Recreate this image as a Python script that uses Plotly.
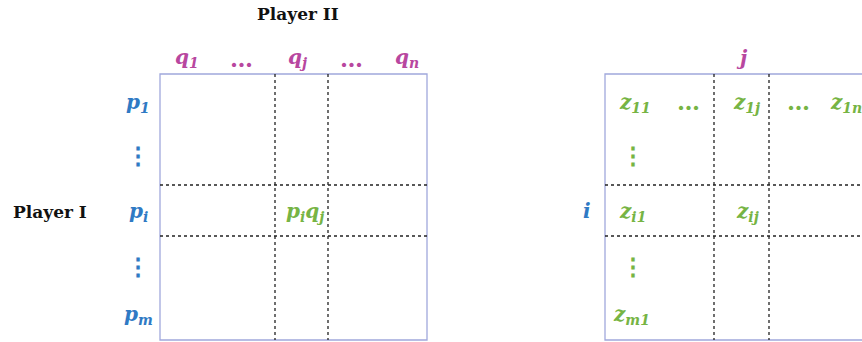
import plotly.graph_objects as go

W, H = 862, 342

# ---- diagram content ----
col_labels = ["q<sub>1</sub>", "…", "q<sub>j</sub>", "…", "q<sub>n</sub>"]
col_label_x = [187, 241, 297, 351, 407]
row_labels = ["p<sub>1</sub>", "⋮", "p<sub>i</sub>", "⋮", "p<sub>m</sub>"]
row_label_y = [103, 155, 212, 266, 315]

z_labels = ["z<sub>11</sub>", "…", "z<sub>1j</sub>", "…", "z<sub>1n</sub>",
            "⋮", "z<sub>i1</sub>", "z<sub>ij</sub>", "⋮", "z<sub>m1</sub>"]
z_x = [635, 688, 746, 798, 846, 633, 632, 747, 633, 631]
z_y = [103, 101, 103, 101, 103, 155, 212, 212, 266, 315]

# matrix geometry (left matrix, right matrix share rows)
left_box = (160, 427)
right_box = (605, 872)
box_y = (74, 340)
left_vdash = [275, 328]
right_vdash = [714, 769]
hdash = [185, 236]

MAG = "#b8479f"
BLUE = "#2f7ac4"
GREEN = "#76b444"
BOXC = "#a0a8dc"
FONT = "DejaVu Serif"

fig = go.Figure()
fig.add_trace(go.Scatter(x=[0, W], y=[0, H], mode="markers",
                         marker=dict(opacity=0), hoverinfo="skip", showlegend=False))

shapes = []
for (x0, x1) in (left_box, right_box):
    shapes.append(dict(type="rect", x0=x0, x1=x1, y0=box_y[0], y1=box_y[1],
                       line=dict(color=BOXC, width=1.3)))
for x in left_vdash + right_vdash:
    shapes.append(dict(type="line", x0=x, x1=x, y0=box_y[0], y1=box_y[1],
                       line=dict(color="#222222", width=1.3, dash="dot")))
for (x0, x1) in (left_box, right_box):
    for y in hdash:
        shapes.append(dict(type="line", x0=x0, x1=x1, y0=y, y1=y,
                           line=dict(color="#222222", width=1.3, dash="dot")))

ann = []
def add(text, x, y, color, size=20, bold=True, italic=True, family=FONT):
    t = text
    if italic and text not in ("⋮", "…"):
        t = "<i>" + t + "</i>"
    if bold:
        t = "<b>" + t + "</b>"
    if text == "⋮":
        size = 24
    if text == "…":
        size = 23
    ann.append(dict(text=t, x=x, y=y, xref="x", yref="y", showarrow=False,
                    font=dict(family=family, size=size, color=color),
                    xanchor="center", yanchor="middle"))

add("Player II", 298, 14, "#111111", size=17, italic=False)
add("Player I", 50, 212, "#111111", size=17, italic=False)
for t, x in zip(col_labels, col_label_x):
    add(t, x, 58, MAG)
for t, y in zip(row_labels, row_label_y):
    add(t, 138, y, BLUE)
add("p<sub>i</sub>q<sub>j</sub>", 305, 212, GREEN)
add("j", 742, 58, MAG)
add("i", 587, 211, BLUE)
for t, x, y in zip(z_labels, z_x, z_y):
    add(t, x, y, GREEN)

fig.update_layout(
    width=W, height=H, margin=dict(l=0, r=0, t=0, b=0),
    paper_bgcolor="white", plot_bgcolor="white",
    xaxis=dict(range=[0, W], visible=False, fixedrange=True),
    yaxis=dict(range=[H, 0], visible=False, fixedrange=True),
    shapes=shapes, annotations=ann, showlegend=False,
)
fig.write_html("out.html", config={"displayModeBar": False},
               post_script="document.body.style.margin='0';document.body.style.overflow='hidden';")
